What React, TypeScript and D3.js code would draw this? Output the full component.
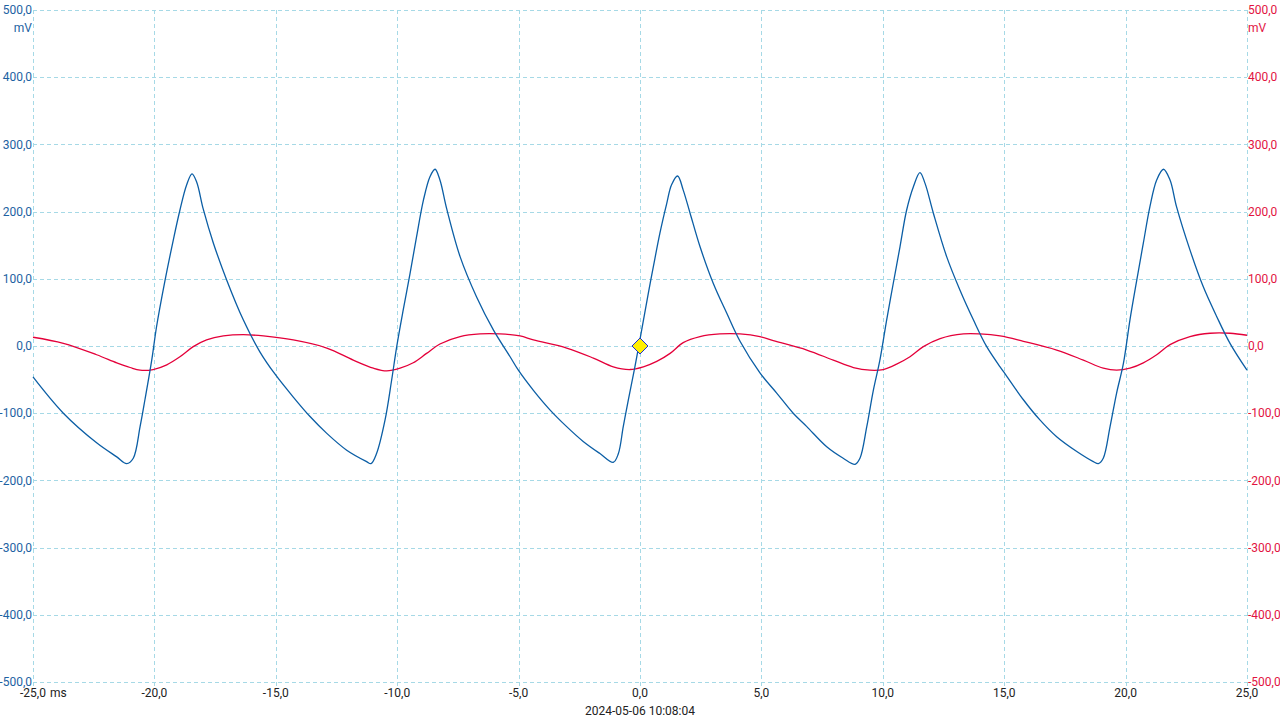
import React, { useEffect, useRef } from 'react';
import * as d3 from 'd3';

// channel A (blue, left axis) - [ms, mV]
const channelA: [number, number][] = [
  [-25.0, -46], [-23.75, -100], [-22.38, -144], [-21.55, -165], [-21.14, -175], [-20.87, -167],
  [-20.59, -120], [-20.39, -80], [-20.11, -21], [-19.91, 29], [-19.56, 98], [-19.22, 158],
  [-18.95, 202], [-18.67, 240], [-18.45, 256], [-18.26, 244], [-17.99, 204], [-17.57, 153],
  [-17.02, 98], [-16.34, 39], [-15.65, -9], [-15.03, -42], [-14.28, -76], [-13.59, -105],
  [-12.9, -130], [-12.08, -155], [-11.26, -172], [-11.08, -175], [-10.85, -160], [-10.5, -110],
  [-10.23, -51], [-10.02, -1], [-9.75, 54], [-9.47, 108], [-9.2, 163], [-8.92, 217],
  [-8.65, 252], [-8.44, 263], [-8.24, 247], [-7.96, 204], [-7.41, 133], [-6.73, 73],
  [-6.04, 24], [-5.35, -16], [-5.01, -36], [-4.39, -66], [-3.71, -95], [-3.02, -120],
  [-2.34, -142], [-1.65, -160], [-1.1, -173], [-0.89, -160], [-0.69, -120], [-0.48, -80],
  [-0.21, -31], [0.07, 24], [0.34, 78], [0.55, 118], [0.82, 168], [1.1, 212],
  [1.3, 240], [1.55, 253], [1.78, 232], [2.06, 198], [2.47, 148], [3.02, 93],
  [3.57, 49], [4.12, 7], [4.94, -40], [5.63, -70], [6.31, -100], [6.87, -120],
  [7.69, -150], [8.37, -167], [8.86, -176], [9.06, -167], [9.34, -120], [9.61, -66],
  [9.88, -21], [10.16, 39], [10.43, 93], [10.71, 148], [10.98, 202], [11.26, 237],
  [11.53, 258], [11.74, 242], [12.08, 198], [12.63, 133], [13.18, 83], [13.73, 39],
  [14.28, -1], [14.83, -31], [15.03, -41], [15.79, -80], [16.47, -110], [17.16, -135],
  [17.99, -157], [18.67, -172], [18.88, -175], [19.08, -167], [19.36, -120], [19.63, -70],
  [19.91, -26], [20.18, 39], [20.46, 98], [20.73, 153], [21.0, 207], [21.28, 247],
  [21.56, 263], [21.83, 247], [22.1, 207], [22.65, 143], [23.2, 88], [23.75, 44],
  [24.3, 4], [25.0, -36],
];

// channel B (red, right axis) - [ms, mV]
const channelB: [number, number][] = [
  [-25.0, 13], [-23.75, 4], [-22.38, -13], [-21.55, -25], [-21.0, -32], [-20.59, -36],
  [-20.05, -35], [-19.49, -28], [-18.95, -16], [-18.4, -1], [-17.85, 9], [-17.16, 15],
  [-16.34, 17], [-15.51, 15], [-14.28, 9], [-12.9, -3], [-11.81, -21], [-10.98, -33],
  [-10.43, -37], [-9.88, -33], [-9.34, -25], [-8.79, -11], [-8.24, 3], [-7.41, 14],
  [-6.59, 18], [-5.77, 18], [-4.94, 15], [-4.39, 9], [-3.02, -3], [-1.92, -18],
  [-1.1, -31], [-0.41, -35], [0.14, -31], [0.69, -23], [1.24, -11], [1.78, 5],
  [2.47, 14], [3.29, 18], [4.12, 18], [4.94, 14], [5.49, 8], [6.87, -6],
  [7.96, -21], [8.79, -32], [9.47, -36], [10.02, -35], [10.57, -27], [11.12, -16],
  [11.67, -1], [12.36, 11], [13.32, 18], [14.0, 18], [14.83, 15], [15.79, 7],
  [17.16, -6], [18.26, -21], [19.08, -33], [19.63, -36], [20.18, -33], [20.73, -25],
  [21.28, -13], [21.83, 2], [22.65, 14], [23.48, 19], [24.3, 19], [25.0, 16],
];

const xTicks = [-25, -20, -15, -10, -5, 0, 5, 10, 15, 20, 25];
const yTicks = [-500, -400, -300, -200, -100, 0, 100, 200, 300, 400, 500];
const triggerPoint: [number, number] = [0, 0];
const timestamp = '2024-05-06 10:08:04';

const BLUE = '#0b5ea5';
const RED = '#e4003a';
const BLUE_TEXT = '#1d62a2';
const RED_TEXT = '#e2133f';
const GRID = '#a6d9e6';

export default function App() {
  const ref = useRef<SVGSVGElement>(null);

  useEffect(() => {
    const W = 1280;
    const H = 720;
    const left = 33;
    const right = 1247;
    const top = 10;
    const bottom = 682;

    const svg = d3.select(ref.current);
    svg.selectAll('*').remove();
    svg.attr('width', W).attr('height', H).style('font-family', 'Roboto, sans-serif');

    svg.append('rect').attr('width', W).attr('height', H).attr('fill', '#fff');

    const x = d3.scaleLinear().domain([-25, 25]).range([left, right]);
    const y = d3.scaleLinear().domain([-500, 500]).range([bottom, top]);
    const fmt = (v: number) => d3.format('.1f')(v).replace('.', ',').replace('−', '-');

    // grid
    const grid = svg.append('g').attr('stroke', GRID).attr('stroke-width', 1).attr('stroke-dasharray', '4,3');
    grid.selectAll('.vx')
      .data(xTicks)
      .enter()
      .append('line')
      .attr('x1', (d) => Math.round(x(d)) + 0.5)
      .attr('x2', (d) => Math.round(x(d)) + 0.5)
      .attr('y1', top)
      .attr('y2', bottom + 4);
    grid.selectAll('.hy')
      .data(yTicks)
      .enter()
      .append('line')
      .attr('y1', (d) => Math.round(y(d)) + 0.5)
      .attr('y2', (d) => Math.round(y(d)) + 0.5)
      .attr('x1', left)
      .attr('x2', right);

    // left axis labels
    svg.append('g')
      .selectAll('text')
      .data(yTicks)
      .enter()
      .append('text')
      .attr('x', left - 1)
      .attr('y', (d) => y(d))
      .attr('dy', '0.35em')
      .attr('text-anchor', 'end')
      .attr('font-size', 12)
      .attr('fill', BLUE_TEXT)
      .text((d) => fmt(d));
    svg.append('text')
      .attr('x', left - 1)
      .attr('y', 28)
      .attr('dy', '0.35em')
      .attr('text-anchor', 'end')
      .attr('font-size', 12)
      .attr('fill', BLUE_TEXT)
      .text('mV');

    // right axis labels
    svg.append('g')
      .selectAll('text')
      .data(yTicks)
      .enter()
      .append('text')
      .attr('x', right + 1)
      .attr('y', (d) => y(d))
      .attr('dy', '0.35em')
      .attr('text-anchor', 'start')
      .attr('font-size', 12)
      .attr('fill', RED_TEXT)
      .text((d) => fmt(d));
    svg.append('text')
      .attr('x', right + 1)
      .attr('y', 28)
      .attr('dy', '0.35em')
      .attr('text-anchor', 'start')
      .attr('font-size', 12)
      .attr('fill', RED_TEXT)
      .text('mV');

    // x axis labels
    svg.append('g')
      .selectAll('text')
      .data(xTicks)
      .enter()
      .append('text')
      .attr('x', (d) => x(d))
      .attr('y', 693)
      .attr('dy', '0.35em')
      .attr('text-anchor', 'middle')
      .attr('font-size', 12)
      .attr('fill', '#222')
      .text((d) => fmt(d));
    svg.append('text')
      .attr('x', x(-25) + 17)
      .attr('y', 693)
      .attr('dy', '0.35em')
      .attr('font-size', 12)
      .attr('fill', '#222')
      .text('ms');
    svg.append('text')
      .attr('x', x(0))
      .attr('y', 711)
      .attr('dy', '0.35em')
      .attr('text-anchor', 'middle')
      .attr('font-size', 12)
      .attr('fill', '#222')
      .text(timestamp);

    const line = d3.line<[number, number]>()
      .x((d) => x(d[0]))
      .y((d) => y(d[1]))
      .curve(d3.curveCatmullRom.alpha(0.5));

    svg.append('path')
      .datum(channelB)
      .attr('fill', 'none')
      .attr('stroke', RED)
      .attr('stroke-width', 1.3)
      .attr('d', line);

    svg.append('path')
      .datum(channelA)
      .attr('fill', 'none')
      .attr('stroke', BLUE)
      .attr('stroke-width', 1.3)
      .attr('d', line);

    // trigger marker
    const tx = x(triggerPoint[0]);
    const ty = y(triggerPoint[1]);
    const r = 8;
    svg.append('path')
      .attr('d', `M${tx},${ty - r}L${tx + r},${ty}L${tx},${ty + r}L${tx - r},${ty}Z`)
      .attr('fill', '#ffee00')
      .attr('stroke', '#1a2fd6')
      .attr('stroke-width', 1);
  }, []);

  return (
    <svg ref={ref} style={{ position: 'absolute', left: 0, top: 0, display: 'block' }} />
  );
}
